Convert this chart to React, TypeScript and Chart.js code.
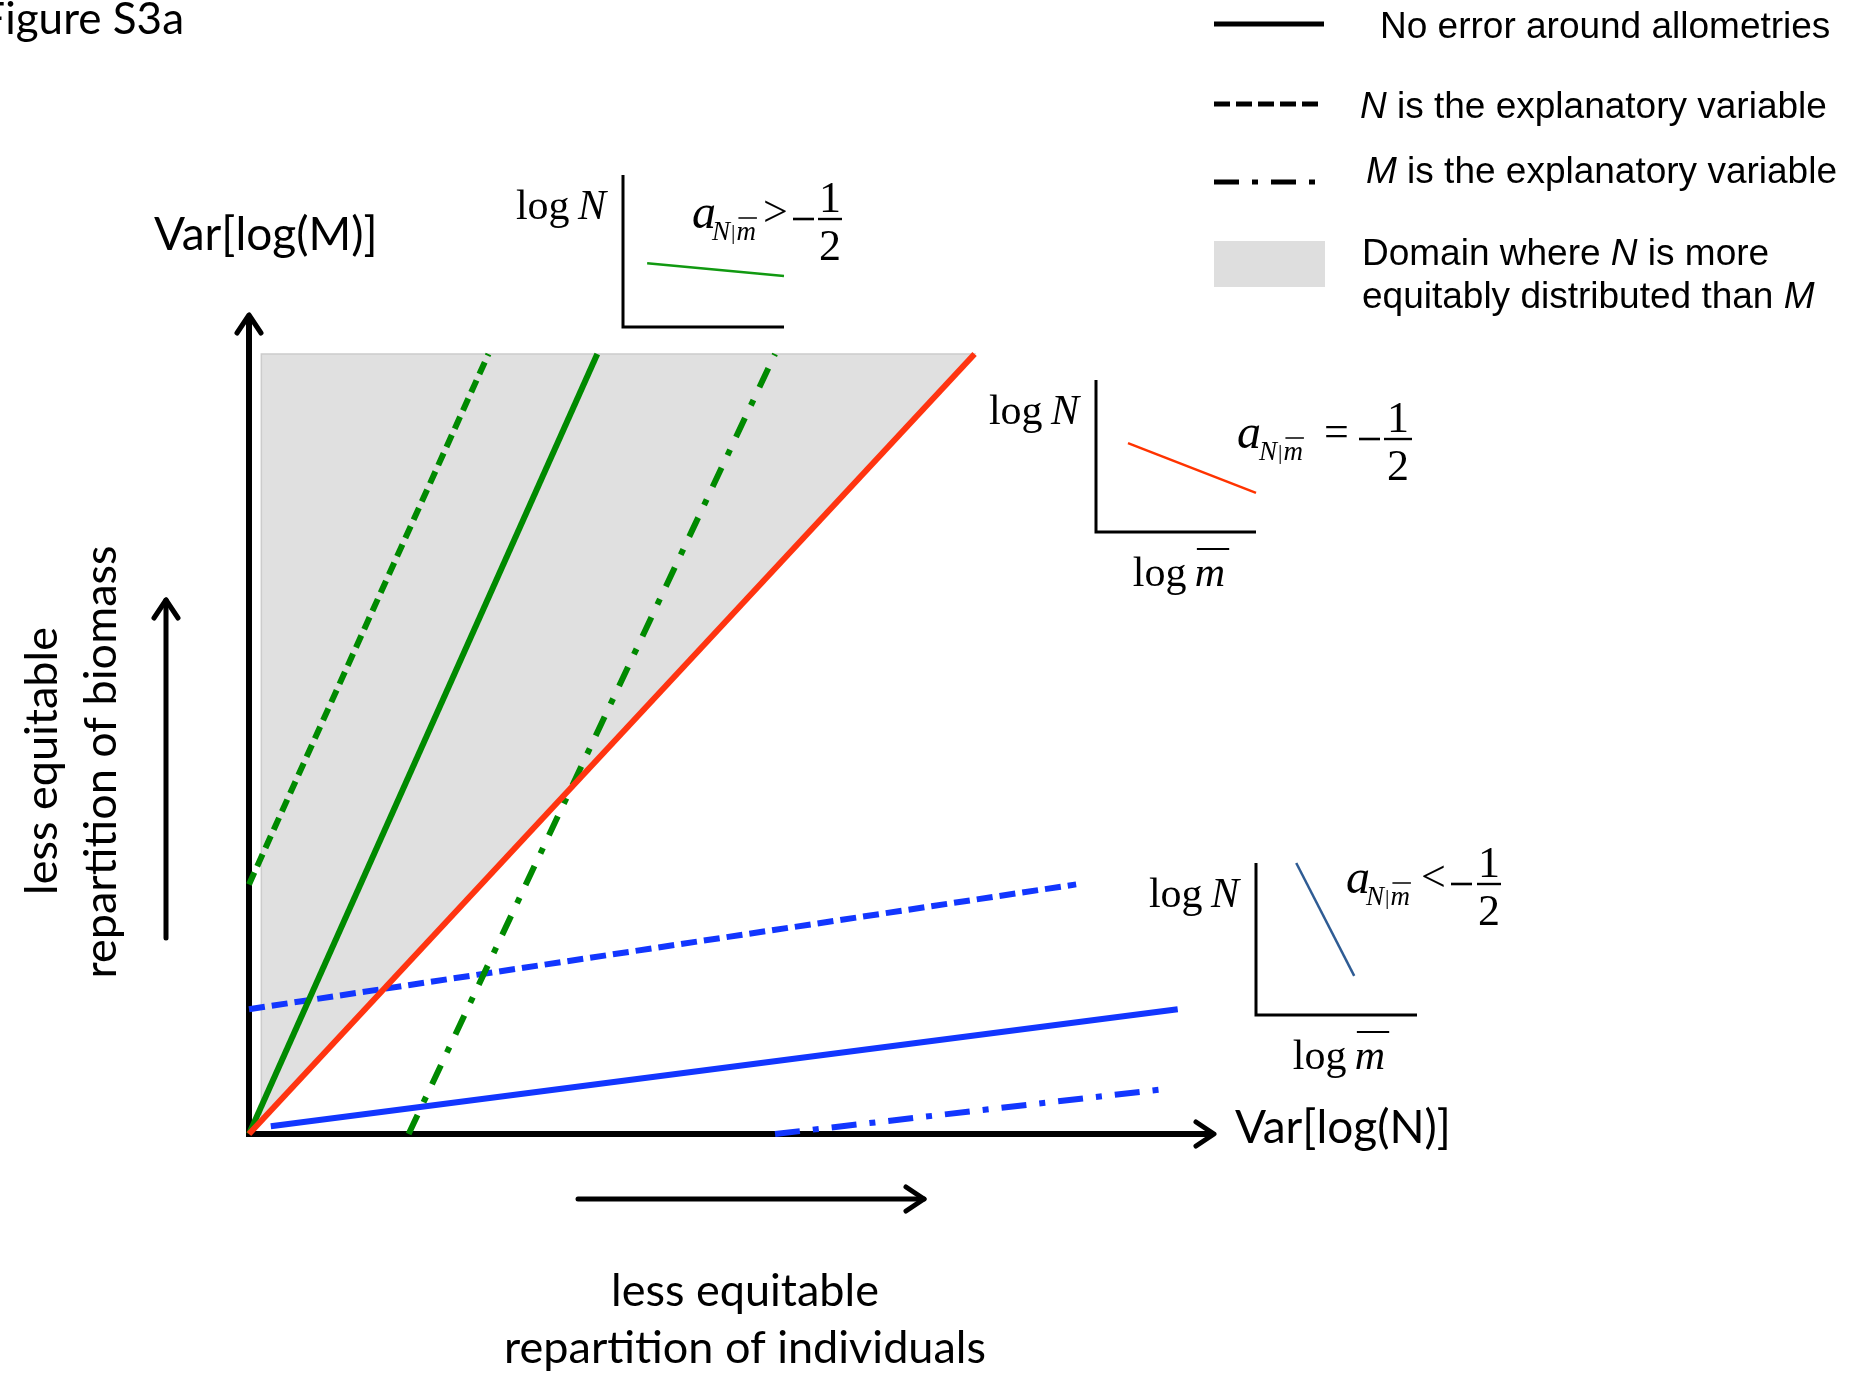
import React, { useEffect, useRef } from 'react';
import { Chart, registerables } from 'chart.js';

Chart.register(...registerables);

const PAGE_W = 1862;
const PAGE_H = 1373;

// ---------- main diagram data (diagram units) ----------
// horizontal: Var[log(N)], vertical: Var[log(M)]
const xAxisMax = 13.3;
const yAxisMax = 10.5;

// grey domain where N is more equitably distributed than M
const domainX = [0.17, 10, 0.17];
const domainY = [10, 10, 0.17];

const redX = [0, 10];
const redY = [0, 10];
const greenSolidX = [0, 4.8];
const greenSolidY = [0, 10];
const greenDashedX = [0, 3.3];
const greenDashedY = [3.2, 10];
const greenDashDotX = [2.2, 7.25];
const greenDashDotY = [0, 10];
const blueDashedX = [0, 11.4];
const blueDashedY = [1.6, 3.2];
const blueSolidX = [0.3, 12.8];
const blueSolidY = [0.1, 1.6];
const blueDashDotX = [7.25, 12.65];
const blueDashDotY = [0, 0.58];

// ---------- inset data (0..1 units) ----------
const insetGreenX = [0.15, 1.0];
const insetGreenY = [0.42, 0.335];
const insetRedX = [0.2, 1.0];
const insetRedY = [0.585, 0.257];
const insetBlueX = [0.25, 0.61];
const insetBlueY = [1.0, 0.257];

// ---------- texts ----------
const figureTitle = 'Figure S3a';
const yAxisLabel = 'Var[log(M)]';
const xAxisLabel = 'Var[log(N)]';
const xDirLabel = ['less equitable', 'repartition of individuals'];
const yDirLabel = ['less equitable', 'repartition of biomass'];
const legendLabels: [string, boolean][][] = [
  [['No error around allometries', false]],
  [['N', true], [' is the explanatory variable', false]],
  [['M', true], [' is the explanatory variable', false]],
  [['Domain where ', false], ['N', true], [' is more', false]],
  [['equitably distributed than ', false], ['M', true]],
];
const insetRelations = ['>', '=', '<'];

// ---------- styles ----------
const GREEN = '#008a00';
const RED = '#ff3410';
const BLUE = '#1236ff';
const GREY = '#e0e0e0';
const CAL = 'Lato, "Open Sans", sans-serif';
const ARIAL = '"Liberation Sans", Arial, sans-serif';
const TIMES = '"Liberation Serif", "Times New Roman", serif';

const DASHED_G = [13, 7];
const DASHED_B = [16, 7];
const DASHDOT_G = [21, 14, 6, 14];
const DASHDOT_B = [25, 13, 6, 13];

const pts = (xs: number[], ys: number[]) => xs.map((x, i) => ({ x, y: ys[i] }));

function drawRich(
  ctx: CanvasRenderingContext2D,
  parts: [string, boolean][],
  x: number,
  y: number,
  size: number,
  family: string,
  align: 'left' | 'center' | 'right' = 'left'
) {
  const widths = parts.map(([t, it]) => {
    ctx.font = `${it ? 'italic ' : ''}${size}px ${family}`;
    return ctx.measureText(t).width;
  });
  const total = widths.reduce((a, b) => a + b, 0);
  let cx = align === 'center' ? x - total / 2 : align === 'right' ? x - total : x;
  ctx.textAlign = 'left';
  parts.forEach(([t, it], i) => {
    ctx.font = `${it ? 'italic ' : ''}${size}px ${family}`;
    ctx.fillText(t, cx, y);
    cx += widths[i];
  });
  return total;
}

function chevron(ctx: CanvasRenderingContext2D, tx: number, ty: number, dx: number, dy: number, back = 18, spread = 12) {
  const px = -dy, py = dx;
  ctx.beginPath();
  ctx.moveTo(tx - dx * back + px * spread, ty - dy * back + py * spread);
  ctx.lineTo(tx, ty);
  ctx.lineTo(tx - dx * back - px * spread, ty - dy * back - py * spread);
  ctx.stroke();
}

function arrowLine(ctx: CanvasRenderingContext2D, x1: number, y1: number, x2: number, y2: number, w = 5) {
  ctx.save();
  ctx.strokeStyle = '#000';
  ctx.lineWidth = w;
  ctx.lineCap = 'round';
  ctx.lineJoin = 'round';
  ctx.beginPath();
  ctx.moveTo(x1, y1);
  ctx.lineTo(x2, y2);
  ctx.stroke();
  const len = Math.hypot(x2 - x1, y2 - y1);
  chevron(ctx, x2, y2, (x2 - x1) / len, (y2 - y1) / len);
  ctx.restore();
}

const mainPlugin = {
  id: 'diagram',
  beforeDatasetsDraw(chart: any) {
    const ctx: CanvasRenderingContext2D = chart.ctx;
    const xs = chart.scales.x, ys = chart.scales.y;
    const a = chart.chartArea;
    ctx.save();
    // grey domain
    ctx.beginPath();
    domainX.forEach((x, i) => {
      const px = xs.getPixelForValue(x), py = ys.getPixelForValue(domainY[i]);
      if (i === 0) ctx.moveTo(px, py); else ctx.lineTo(px, py);
    });
    ctx.closePath();
    ctx.fillStyle = GREY;
    ctx.fill();
    ctx.strokeStyle = '#cccccc';
    ctx.lineWidth = 1.5;
    ctx.stroke();
    // axes
    ctx.strokeStyle = '#000';
    ctx.lineWidth = 6;
    ctx.lineJoin = 'miter';
    ctx.lineCap = 'butt';
    ctx.beginPath();
    ctx.moveTo(a.left, a.top);
    ctx.lineTo(a.left, a.bottom);
    ctx.lineTo(a.right, a.bottom);
    ctx.stroke();
    ctx.lineWidth = 5;
    ctx.lineJoin = 'round';
    ctx.lineCap = 'round';
    chevron(ctx, a.left, a.top, 0, -1);
    chevron(ctx, a.right, a.bottom, 1, 0);
    ctx.restore();
  },
  afterDraw(chart: any) {
    const ctx: CanvasRenderingContext2D = chart.ctx;
    const a = chart.chartArea;
    ctx.save();
    ctx.fillStyle = '#000';
    ctx.textBaseline = 'middle';

    // title
    ctx.font = `44px ${CAL}`;
    ctx.textAlign = 'right';
    ctx.fillText(figureTitle, 184, 20);

    // axis labels
    ctx.font = `46px ${CAL}`;
    ctx.textAlign = 'left';
    ctx.fillText(yAxisLabel, a.left - 95, 235);
    ctx.fillText(xAxisLabel, a.right + 21, a.bottom - 6);

    // direction arrows & labels
    arrowLine(ctx, 578, 1199, 924, 1199, 5);
    arrowLine(ctx, 166, 938, 166, 600, 5);
    ctx.fillStyle = '#000';
    ctx.font = `45px ${CAL}`;
    ctx.textAlign = 'center';
    ctx.fillText(xDirLabel[0], 745, 1291);
    ctx.fillText(xDirLabel[1], 745, 1348);
    ctx.save();
    ctx.translate(42, 761);
    ctx.rotate(-Math.PI / 2);
    ctx.fillText(yDirLabel[0], 0, 0);
    ctx.restore();
    ctx.save();
    ctx.translate(101, 762);
    ctx.rotate(-Math.PI / 2);
    ctx.fillText(yDirLabel[1], 0, 0);
    ctx.restore();

    // legend
    ctx.strokeStyle = '#000';
    ctx.lineWidth = 5;
    ctx.lineCap = 'butt';
    const sample = (y: number, dash: number[]) => {
      ctx.setLineDash(dash);
      ctx.beginPath();
      ctx.moveTo(1214, y);
      ctx.lineTo(1324, y);
      ctx.stroke();
    };
    sample(24, []);
    sample(104, [16, 6]);
    sample(182, [25, 13, 6, 13]);
    ctx.setLineDash([]);
    ctx.fillStyle = '#dedede';
    ctx.fillRect(1214, 241, 111, 46);
    ctx.fillStyle = '#000';
    ctx.textBaseline = 'middle';
    drawRich(ctx, legendLabels[0], 1380, 28, 37, ARIAL);
    drawRich(ctx, legendLabels[1], 1360, 108, 37, ARIAL);
    drawRich(ctx, legendLabels[2], 1366, 173, 37, ARIAL);
    drawRich(ctx, legendLabels[3], 1362, 255, 37, ARIAL);
    drawRich(ctx, legendLabels[4], 1362, 298, 37, ARIAL);
    ctx.restore();
  },
};

function mainConfig(): any {
  const ds = (xs: number[], ys: number[], color: string, dash: number[], label: string) => ({
    label,
    data: pts(xs, ys),
    showLine: true,
    borderColor: color,
    backgroundColor: color,
    borderWidth: 6,
    borderDash: dash,
    borderCapStyle: 'butt',
    pointRadius: 0,
    fill: false,
    clip: false,
    tension: 0,
  });
  return {
    type: 'scatter',
    data: {
      datasets: [
        ds(redX, redY, RED, [], 'a = -1/2'),
        ds(greenSolidX, greenSolidY, GREEN, [], 'a > -1/2, no error'),
        ds(greenDashedX, greenDashedY, GREEN, DASHED_G, 'a > -1/2, N explanatory'),
        ds(greenDashDotX, greenDashDotY, GREEN, DASHDOT_G, 'a > -1/2, M explanatory'),
        ds(blueDashedX, blueDashedY, BLUE, DASHED_B, 'a < -1/2, N explanatory'),
        ds(blueSolidX, blueSolidY, BLUE, [], 'a < -1/2, no error'),
        ds(blueDashDotX, blueDashDotY, BLUE, DASHDOT_B, 'a < -1/2, M explanatory'),
      ],
    },
    options: {
      responsive: false,
      animation: false,
      devicePixelRatio: 1,
      events: [],
      layout: { padding: { left: 249, top: 315, right: PAGE_W - 1214, bottom: PAGE_H - 1134 } },
      scales: {
        x: { type: 'linear', min: 0, max: xAxisMax, display: false },
        y: { type: 'linear', min: 0, max: yAxisMax, display: false },
      },
      plugins: { legend: { display: false }, tooltip: { enabled: false }, title: { display: false } },
    },
    plugins: [mainPlugin],
  };
}

// ---------- insets ----------
const insetBoxes = [
  { left: 623, top: 175, right: 784, bottom: 327, xLabel: false, ax: 692, base: 228, subX: 20, relX: 71, minusX: 101, barX: 126, barW: 24 },
  { left: 1096, top: 380, right: 1256, bottom: 532, xLabel: true, ax: 1237, base: 448, subX: 22, relX: 87, minusX: 122, barX: 147, barW: 28 },
  { left: 1256, top: 863, right: 1417, bottom: 1015, xLabel: true, ax: 1346, base: 893, subX: 20, relX: 75, minusX: 105, barX: 131, barW: 24 },
];
const insetSeries = [
  { xs: insetGreenX, ys: insetGreenY, color: '#119911' },
  { xs: insetRedX, ys: insetRedY, color: '#ff3300' },
  { xs: insetBlueX, ys: insetBlueY, color: '#2f5c94' },
];

function insetConfig(i: number): any {
  const box = insetBoxes[i];
  const s = insetSeries[i];
  const rel = insetRelations[i];
  const plugin = {
    id: 'inset' + i,
    beforeDatasetsDraw(chart: any) {
      const ctx: CanvasRenderingContext2D = chart.ctx;
      const a = chart.chartArea;
      ctx.save();
      ctx.strokeStyle = '#000';
      ctx.lineWidth = 3;
      ctx.lineJoin = 'miter';
      ctx.beginPath();
      ctx.moveTo(a.left, a.top);
      ctx.lineTo(a.left, a.bottom);
      ctx.lineTo(a.right, a.bottom);
      ctx.stroke();
      ctx.restore();
    },
    afterDraw(chart: any) {
      const ctx: CanvasRenderingContext2D = chart.ctx;
      const a = chart.chartArea;
      ctx.save();
      ctx.fillStyle = '#000';
      ctx.strokeStyle = '#000';
      ctx.textBaseline = 'alphabetic';
      // y label
      drawRich(ctx, [['log', false], ['\u2009N', true]], a.left - 17, a.top + 44, 42, TIMES, 'right');
      // x label
      if (box.xLabel) {
        ctx.font = `42px ${TIMES}`;
        const w1 = ctx.measureText('log\u2009').width;
        ctx.font = `italic 42px ${TIMES}`;
        const w2 = ctx.measureText('m').width;
        const x0 = a.left + 83 - (w1 + w2) / 2;
        const b = a.bottom + 54;
        drawRich(ctx, [['log\u2009', false], ['m', true]], x0, b, 42, TIMES, 'left');
        ctx.lineWidth = 2;
        ctx.beginPath();
        ctx.moveTo(x0 + w1 + 2, b - 37);
        ctx.lineTo(x0 + w1 + w2 + 4, b - 37);
        ctx.stroke();
      }
      // formula
      const { ax, base } = box;
      ctx.textAlign = 'left';
      ctx.font = `italic 48px ${TIMES}`;
      ctx.fillText('a', ax, base);
      let sx = ax + box.subX;
      const sb = base + 12;
      ctx.font = `italic 27px ${TIMES}`;
      ctx.fillText('N', sx, sb);
      sx += ctx.measureText('N').width + 1;
      ctx.font = `22px ${TIMES}`;
      ctx.fillText('|', sx, sb - 1);
      sx += ctx.measureText('|').width + 1;
      ctx.font = `italic 27px ${TIMES}`;
      ctx.fillText('m', sx, sb);
      const mw = ctx.measureText('m').width;
      ctx.lineWidth = 1.5;
      ctx.beginPath();
      ctx.moveTo(sx + 2, sb - 22);
      ctx.lineTo(sx + mw + 1, sb - 22);
      ctx.stroke();
      ctx.font = `44px ${TIMES}`;
      ctx.fillText(rel, ax + box.relX, base - 2);
      const lineY = base - 9;
      ctx.fillRect(ax + box.minusX, lineY - 1.3, 21, 2.6);
      ctx.fillRect(ax + box.barX, lineY - 1.2, box.barW, 2.4);
      ctx.font = `44px ${TIMES}`;
      ctx.textAlign = 'center';
      const cx = ax + box.barX + box.barW / 2;
      ctx.fillText('1', cx, lineY - 7);
      ctx.fillText('2', cx, lineY + 41);
      ctx.restore();
    },
  };
  return {
    type: 'scatter',
    data: {
      datasets: [
        {
          label: 'inset ' + i,
          data: pts(s.xs, s.ys),
          showLine: true,
          borderColor: s.color,
          backgroundColor: s.color,
          borderWidth: 2.5,
          pointRadius: 0,
          clip: false,
          tension: 0,
        },
      ],
    },
    options: {
      responsive: false,
      animation: false,
      devicePixelRatio: 1,
      events: [],
      layout: { padding: { left: box.left, top: box.top, right: PAGE_W - box.right, bottom: PAGE_H - box.bottom } },
      scales: {
        x: { type: 'linear', min: 0, max: 1, display: false },
        y: { type: 'linear', min: 0, max: 1, display: false },
      },
      plugins: { legend: { display: false }, tooltip: { enabled: false } },
    },
    plugins: [plugin],
  };
}

export default function App() {
  const mainRef = useRef<HTMLCanvasElement>(null);
  const r0 = useRef<HTMLCanvasElement>(null);
  const r1 = useRef<HTMLCanvasElement>(null);
  const r2 = useRef<HTMLCanvasElement>(null);

  useEffect(() => {
    const charts: Chart[] = [];
    if (mainRef.current) charts.push(new Chart(mainRef.current, mainConfig()));
    [r0, r1, r2].forEach((r, i) => {
      if (r.current) charts.push(new Chart(r.current, insetConfig(i)));
    });
    return () => charts.forEach((c) => c.destroy());
  }, []);

  const cs: React.CSSProperties = { position: 'absolute', left: 0, top: 0 };
  return (
    <div style={{ position: 'absolute', left: 0, top: 0, width: PAGE_W, height: PAGE_H, background: '#fff', overflow: 'hidden' }}>
      <canvas ref={mainRef} width={PAGE_W} height={PAGE_H} style={cs} />
      <canvas ref={r0} width={PAGE_W} height={PAGE_H} style={cs} />
      <canvas ref={r1} width={PAGE_W} height={PAGE_H} style={cs} />
      <canvas ref={r2} width={PAGE_W} height={PAGE_H} style={cs} />
    </div>
  );
}
